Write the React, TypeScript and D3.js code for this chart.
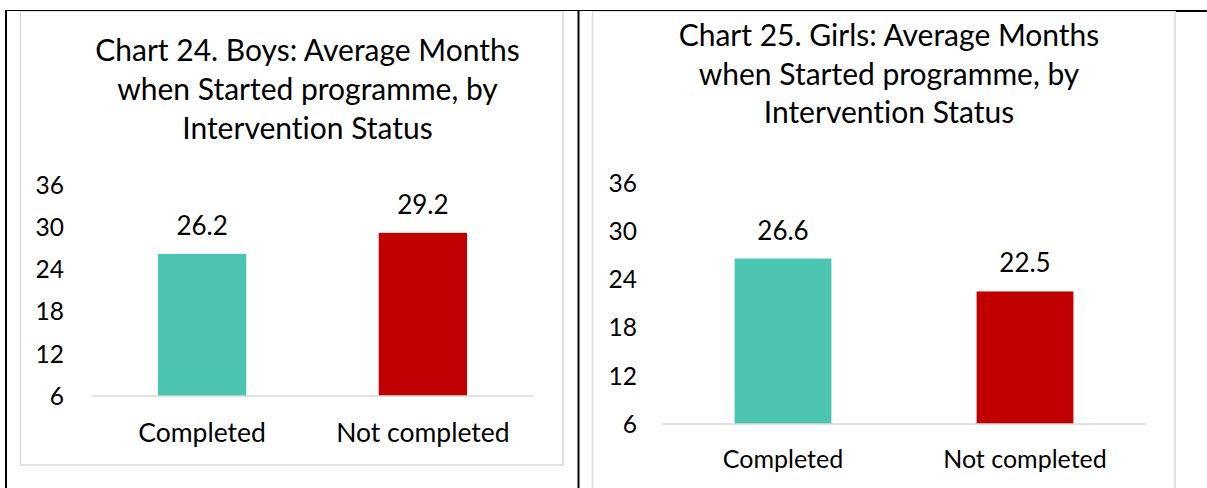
import React from "react";
import * as d3 from "d3";

const categories = ["Completed", "Not completed"];
const boysValues = [26.2, 29.2];
const girlsValues = [26.6, 22.5];
const yTicks = [6, 12, 18, 24, 30, 36];
const boysTitle = ["Chart 24. Boys: Average Months", "when Started programme, by", "Intervention Status"];
const girlsTitle = ["Chart 25. Girls: Average Months", "when Started programme, by", "Intervention Status"];
const barColors = ["#4BC5B1", "#C00000"];

const FONT = "Lato, 'Open Sans', sans-serif";
const textStyle = { fontVariantLigatures: "none" as const };

type ChartCfg = {
  title: string[];
  values: number[];
  box: [number, number, number, number];
  titleX: number;
  titleY: number[];
  xRange: [number, number];
  yRange: [number, number];
  tickX: number;
  catY: number;
  catSize: number;
};

function Chart({ cfg }: { cfg: ChartCfg }) {
  const x = d3.scaleBand<string>().domain(categories).range(cfg.xRange).paddingInner(0.6).paddingOuter(0.3);
  const y = d3.scaleLinear().domain([6, 36]).range(cfg.yRange);
  const [bx, by, bw, bh] = cfg.box;
  return (
    <g>
      <rect x={bx} y={by} width={bw} height={bh} fill="#fff" stroke="#d9d9d9" strokeWidth={1.5} />
      {cfg.title.map((t, i) => (
        <text key={i} x={cfg.titleX} y={cfg.titleY[i]} textAnchor="middle" fontSize={30} fill="#000" fontFamily={FONT} style={textStyle}>
          {t}
        </text>
      ))}
      {yTicks.map((t) => (
        <text key={t} x={cfg.tickX} y={y(t)} dy="0.36em" textAnchor="end" fontSize={24.5} fill="#000" fontFamily={FONT} style={textStyle}>
          {t}
        </text>
      ))}
      {categories.map((c, i) => {
        const v = cfg.values[i];
        const x0 = x(c)!;
        return (
          <g key={c}>
            <rect x={x0} y={y(v)} width={x.bandwidth()} height={y(6) - y(v)} fill={barColors[i]} />
            <text x={x0 + x.bandwidth() / 2} y={y(v) - 19} textAnchor="middle" fontSize={26} fill="#000" fontFamily={FONT} style={textStyle}>
              {v.toFixed(1)}
            </text>
            <text x={x0 + x.bandwidth() / 2} y={cfg.catY} textAnchor="middle" fontSize={cfg.catSize} fill="#000" fontFamily={FONT} style={textStyle}>
              {c}
            </text>
          </g>
        );
      })}
      <line x1={cfg.xRange[0]} x2={cfg.xRange[1]} y1={y(6)} y2={y(6)} stroke="#d9d9d9" strokeWidth={1.5} />
    </g>
  );
}

const boysCfg: ChartCfg = {
  title: boysTitle,
  values: boysValues,
  box: [20.5, 11, 542.5, 454],
  titleX: 307.5,
  titleY: [61, 100, 139],
  xRange: [91.7, 533.3],
  yRange: [396, 185],
  tickX: 64,
  catY: 442,
  catSize: 26.5,
};

const girlsCfg: ChartCfg = {
  title: girlsTitle,
  values: girlsValues,
  box: [592.5, 11, 582.5, 500],
  titleX: 889,
  titleY: [46, 84.5, 123],
  xRange: [662, 1146],
  yRange: [424, 183],
  tickX: 637,
  catY: 468,
  catSize: 25,
};

export default function App() {
  return (
    <svg width={1207} height={488} style={{ position: "absolute", left: 0, top: 0, background: "#fff" }}>
      <rect x={0} y={0} width={1207} height={488} fill="#fff" />
      <Chart cfg={boysCfg} />
      <Chart cfg={girlsCfg} />
      <line x1={5} x2={1207} y1={10.5} y2={10.5} stroke="#000" strokeWidth={1} />
      <line x1={1176} x2={1207} y1={11} y2={11} stroke="#000" strokeWidth={2} />
      <line x1={6} x2={6} y1={10} y2={488} stroke="#000" strokeWidth={2} />
      <line x1={578.5} x2={578.5} y1={10} y2={488} stroke="#000" strokeWidth={2} />
    </svg>
  );
}
